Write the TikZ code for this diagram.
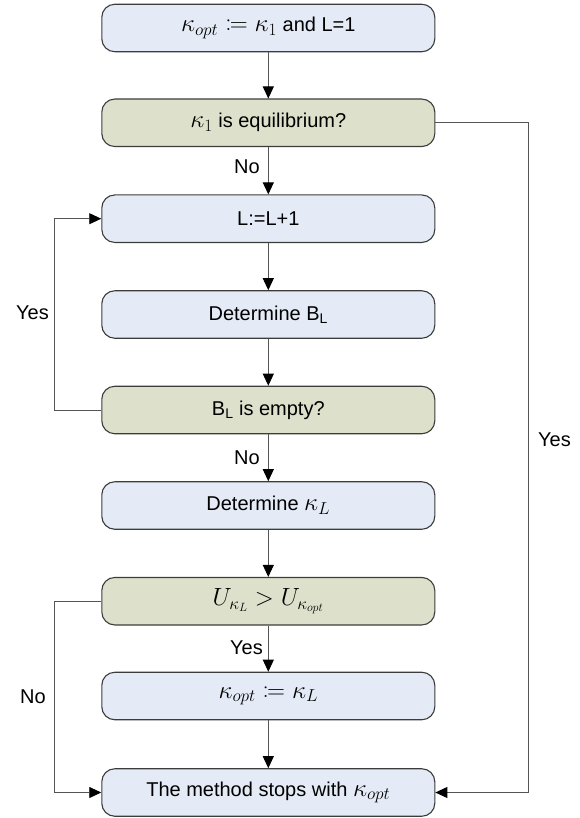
\documentclass[tikz,border=0pt]{standalone}
\usepackage{fontspec}
\setmainfont{Liberation Sans}
\usepackage{mathtools}
\usetikzlibrary{arrows.meta}
\definecolor{boxblue}{RGB}{229,235,246}
\definecolor{boxgreen}{RGB}{221,225,203}
\definecolor{edgecol}{RGB}{60,60,60}
\definecolor{wirecol}{RGB}{85,85,85}
\newcommand{\mth}[1]{{\fontsize{25}{30}\selectfont$#1$}}
\begin{document}
\begin{tikzpicture}[x=1pt,y=-1pt,
  box/.style={draw=edgecol, line width=1.1pt, rounded corners=13pt,
    minimum width=333pt, minimum height=47.5pt, inner sep=0pt,
    font=\fontsize{20}{24}\selectfont},
  proc/.style={box, fill=boxblue},
  test/.style={box, fill=boxgreen},
  wire/.style={draw=wirecol, line width=0.9pt,
    -{Triangle[length=12pt,width=11pt,color=black]}},
  lbl/.style={font=\fontsize{20}{24}\selectfont, inner sep=0pt}]
\useasboundingbox (0,0) rectangle (580,818);
\node[proc] (n1) at (268.3,28) {\mth{\kappa_{opt} \coloneqq \kappa_1} and L=1};
\node[test] (n2) at (268.3,122.8) {\mth{\kappa_1} is equilibrium?};
\node[proc] (n3) at (268.3,218.7) {L:=L+1};
\node[proc] (n4) at (268.3,314.5) {Determine B\textsubscript{L}};
\node[test] (n5) at (268.3,410) {B\textsubscript{L} is empty?};
\node[proc] (n6) at (268.3,505.5) {Determine \mth{\kappa_L}};
\node[test] (n7) at (268.3,601.2) {\mth{U_{\kappa_L} > U_{\kappa_{opt}}}};
\node[proc] (n8) at (268.3,696) {\mth{\kappa_{opt} \coloneqq \kappa_L}};
\node[proc] (n9) at (268.3,792.5) {The method stops with \mth{\kappa_{opt}}};
\coordinate (rx) at (528,0);
\coordinate (lx) at (54,0);
\draw[wire] (n1) -- (n2);
\draw[wire] (n2) -- (n3);
\draw[wire] (n3) -- (n4);
\draw[wire] (n4) -- (n5);
\draw[wire] (n5) -- (n6);
\draw[wire] (n6) -- (n7);
\draw[wire] (n7) -- (n8);
\draw[wire] (n8) -- (n9);
\draw[wire] (n2.east) -- (n2.east -| rx) |- (n9.east);
\draw[wire] (n5.west) -- (n5.west -| lx) |- (n3.west);
\draw[wire] (n7.west) -- (n7.west -| lx) |- (n9.west);
\node[lbl, anchor=east] (l1) at (260,167) {No};
\node[lbl, anchor=east] (l2) at (260,458) {No};
\node[lbl, anchor=east] (l3) at (263,648) {Yes};
\node[lbl, anchor=east] (l4) at (49,313) {Yes};
\node[lbl, anchor=east] (l5) at (46,697) {No};
\node[lbl, anchor=west] (l6) at (538,440) {Yes};
\end{tikzpicture}
\end{document}
